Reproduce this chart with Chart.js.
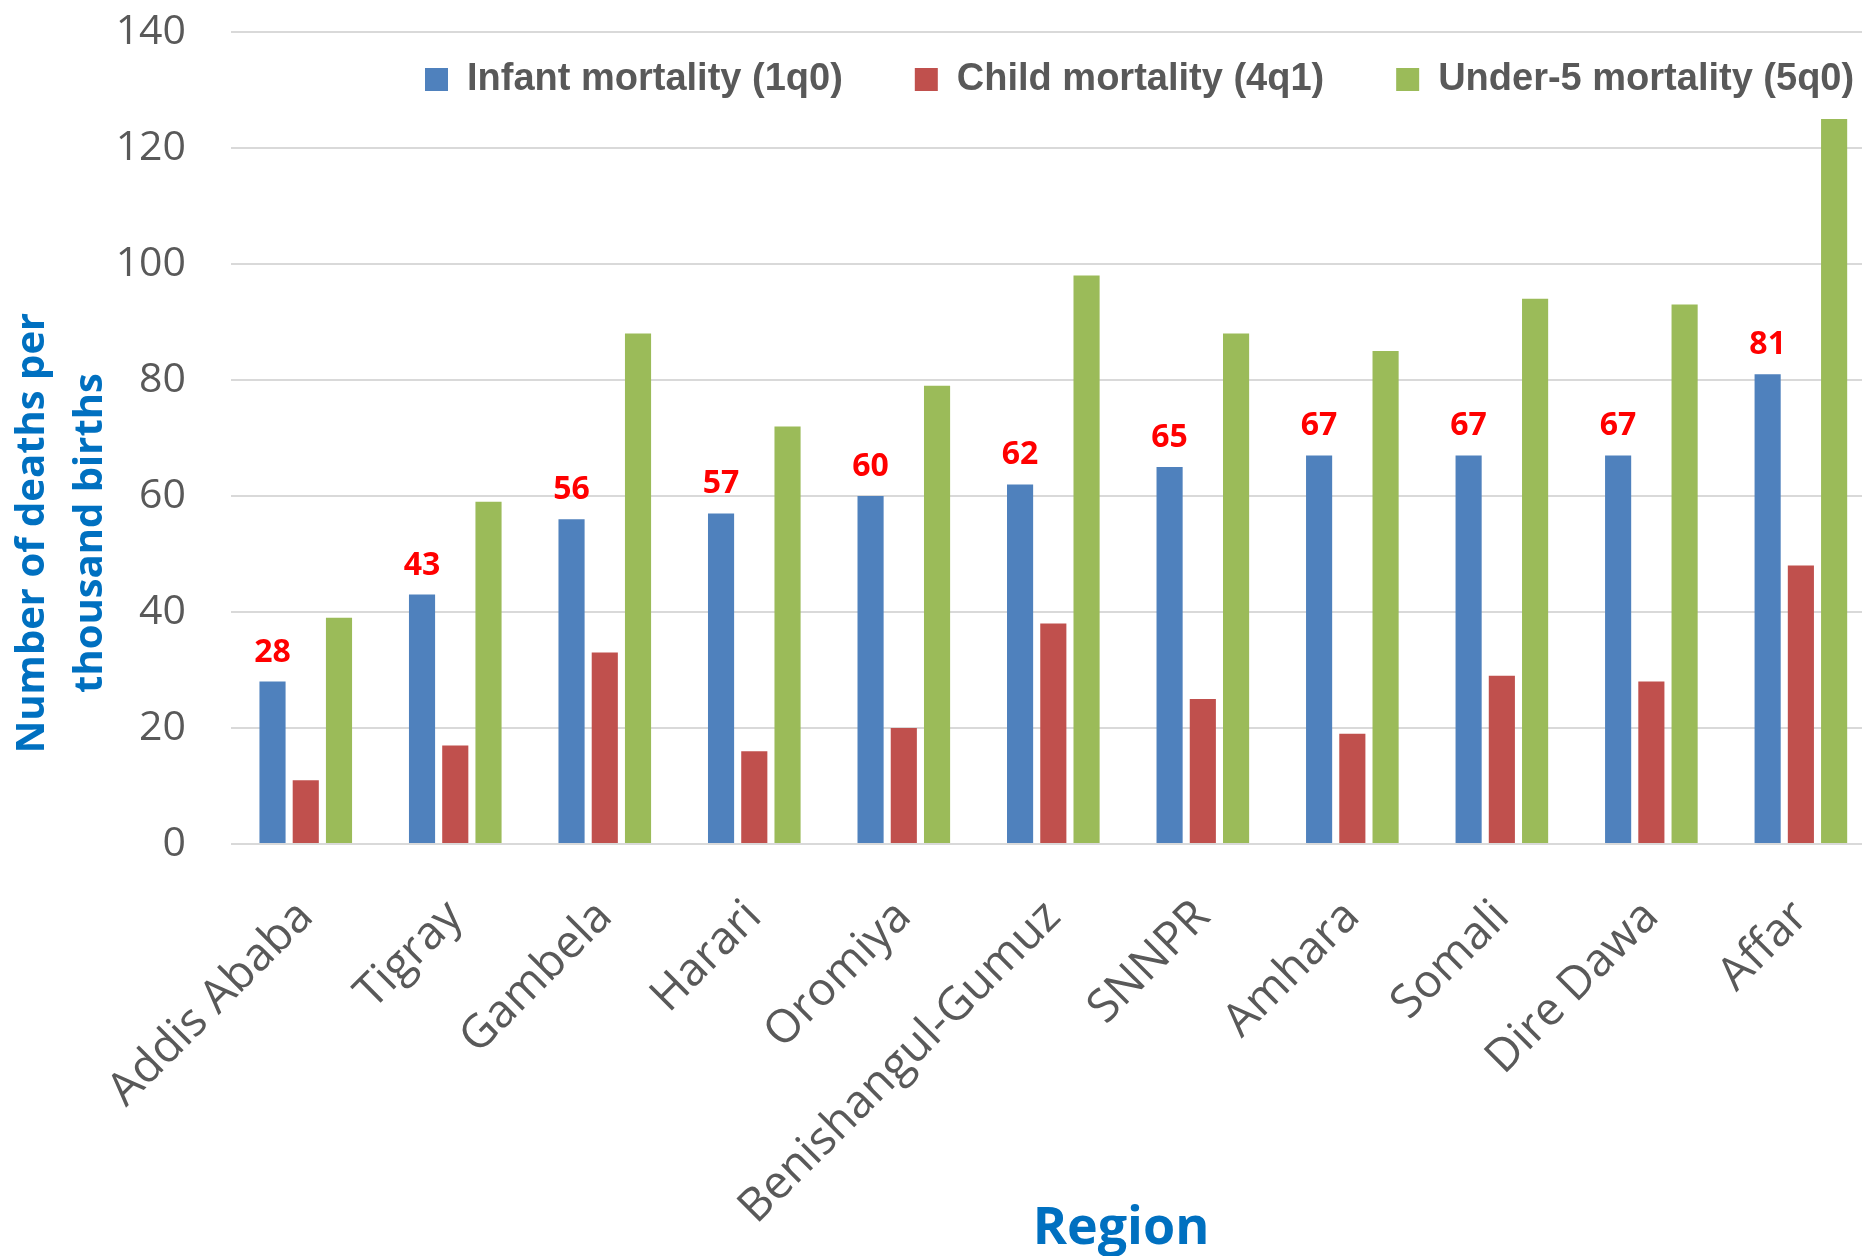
<!DOCTYPE html>
<html><head><meta charset="utf-8">
<script src="https://cdn.jsdelivr.net/npm/chart.js@4.4.1/dist/chart.umd.min.js"></script>
<style>html,body{margin:0;padding:0;overflow:hidden;background:#fff;width:1862px;height:1256px}canvas{display:block}</style>
</head><body><canvas id="c" width="1886" height="1256"></canvas>
<script>
const regions = ['Addis Ababa','Tigray','Gambela','Harari','Oromiya','Benishangul-Gumuz','SNNPR','Amhara','Somali','Dire Dawa','Affar'];
const infantMortality = [28,43,56,57,60,62,65,67,67,67,81];
const childMortality = [11,17,33,16,20,38,25,19,29,28,48];
const under5Mortality = [39,59,88,72,79,98,88,85,94,93,125];
const seriesNames = ['Infant mortality (1q0)','Child mortality (4q1)','Under-5 mortality (5q0)'];
const seriesColors = ['#4F81BD','#C0504D','#9BBB59'];
const yMin = 0, yMax = 140, yStep = 20;
const yTitleLines = ['Number of deaths per','thousand births'];
const xTitle = 'Region';

const TEXT_GRAY = '#595959';
const TITLE_BLUE = '#0070C0';

const valueLabels = {
  id: 'valueLabels',
  afterDatasetsDraw(chart) {
    const meta = chart.getDatasetMeta(0);
    const ctx = chart.ctx;
    ctx.save();
    ctx.font = 'bold 32px "Open Sans"';
    ctx.fillStyle = '#FF0000';
    ctx.textAlign = 'center';
    ctx.textBaseline = 'alphabetic';
    meta.data.forEach((bar, i) => {
      ctx.fillText(String(infantMortality[i]), bar.x, bar.y - 20);
    });
    ctx.restore();
  }
};

const axisTitles = {
  id: 'axisTitles',
  afterDraw(chart) {
    const ctx = chart.ctx;
    ctx.save();
    ctx.fillStyle = TITLE_BLUE;
    ctx.font = 'bold 40px "Open Sans"';
    ctx.textAlign = 'center';
    ctx.textBaseline = 'middle';
    ctx.translate(0, 533);
    ctx.rotate(-Math.PI / 2);
    ctx.fillText(yTitleLines[0], 0, 33);
    ctx.fillText(yTitleLines[1], 0, 91);
    ctx.restore();
    ctx.save();
    ctx.fillStyle = TITLE_BLUE;
    ctx.font = 'bold 52px "Open Sans"';
    ctx.textAlign = 'center';
    ctx.textBaseline = 'alphabetic';
    ctx.fillText(xTitle, 1121, 1244);
    ctx.restore();
  }
};

// Keep the legend from taking layout space, then place it inside the plot, top right.
const legendPlacer = {
  id: 'legendPlacer',
  beforeLayout(chart) {
    const lg = chart.legend;
    if (lg && !lg._zeroHeight) {
      const origFit = lg.fit.bind(lg);
      lg.fit = function () { origFit(); this.height = 0; };
      lg._zeroHeight = true;
    }
  },
  afterLayout(chart) {
    const lg = chart.legend;
    if (!lg) return;
    const pad = lg.options.labels.padding;
    const fs = lg.options.labels.font.size;
    lg.top = 79.5 - pad - fs / 2;
    lg.bottom = lg.top + fs + 2 * pad;
    lg.left = 425 - pad;
    lg.right = 6000;
  }
};

new Chart(document.getElementById('c'), {
  type: 'bar',
  data: {
    labels: regions,
    datasets: [
      { label: seriesNames[0], data: infantMortality, backgroundColor: seriesColors[0] },
      { label: seriesNames[1], data: childMortality, backgroundColor: seriesColors[1] },
      { label: seriesNames[2], data: under5Mortality, backgroundColor: seriesColors[2] }
    ]
  },
  options: {
    responsive: false,
    animation: false,
    devicePixelRatio: 1,
    layout: { padding: { top: 32, right: 2, left: 0, bottom: 0 } },
    datasets: { bar: { categoryPercentage: 0.667, barPercentage: 0.786, borderWidth: 0 } },
    plugins: {
      tooltip: { enabled: false },
      legend: {
        position: 'top',
        align: 'start',
        labels: {
          boxWidth: 23,
          boxHeight: 23,
          padding: 72,
          color: TEXT_GRAY,
          font: { family: '"Liberation Sans", Arial, sans-serif', size: 38, weight: 'bold' }
        }
      }
    },
    scales: {
      x: {
        grid: { display: false, drawTicks: false },
        border: { display: false },
        ticks: {
          color: TEXT_GRAY,
          font: { family: '"Open Sans"', size: 46 },
          minRotation: 45, maxRotation: 45,
          autoSkip: false,
          padding: 46
        },
        afterFit(scale) { scale.height = 412; }
      },
      y: {
        min: yMin, max: yMax,
        grid: { color: '#D9D9D9', lineWidth: 2, drawTicks: true, tickLength: 45, tickColor: 'rgba(0,0,0,0)' },
        border: { display: false },
        ticks: {
          stepSize: yStep,
          color: TEXT_GRAY,
          font: { family: '"Open Sans"', size: 41 },
          padding: 0
        },
        afterFit(scale) { scale.width = 231; }
      }
    }
  },
  plugins: [valueLabels, axisTitles, legendPlacer]
});
</script>
</body></html>
